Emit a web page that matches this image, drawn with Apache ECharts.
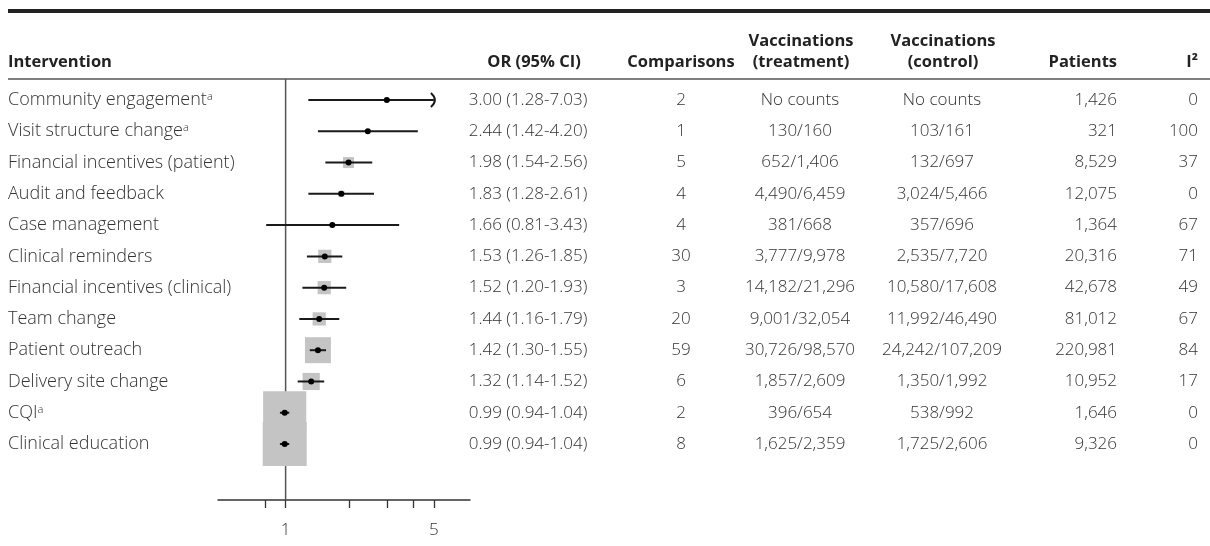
<!DOCTYPE html>
<html><head><meta charset="utf-8">
<script src="https://cdn.jsdelivr.net/npm/echarts@6/dist/echarts.min.js"></script>
<style>html,body{margin:0;padding:0;background:#fff}#c{width:1210px;height:546px}</style>
</head><body><div id="c"></div>
<script>
// ---------- data ----------
const interventions = ['Community engagement','Visit structure change','Financial incentives (patient)','Audit and feedback','Case management','Clinical reminders','Financial incentives (clinical)','Team change','Patient outreach','Delivery site change','CQI','Clinical education'];
const footnote = [true,true,false,false,false,false,false,false,false,false,true,false];
const orValues = [3.00,2.44,1.98,1.83,1.66,1.53,1.52,1.44,1.42,1.32,0.99,0.99];
const ciLower  = [1.28,1.42,1.54,1.28,0.81,1.26,1.20,1.16,1.30,1.14,0.94,0.94];
const ciUpper  = [7.03,4.20,2.56,2.61,3.43,1.85,1.93,1.79,1.55,1.52,1.04,1.04];
const comparisons = [2,1,5,4,4,30,3,20,59,6,2,8];
const vaccTreatment = ['No counts','130/160','652/1,406','4,490/6,459','381/668','3,777/9,978','14,182/21,296','9,001/32,054','30,726/98,570','1,857/2,609','396/654','1,625/2,359'];
const vaccControl = ['No counts','103/161','132/697','3,024/5,466','357/696','2,535/7,720','10,580/17,608','11,992/46,490','24,242/107,209','1,350/1,992','538/992','1,725/2,606'];
const patients = ['1,426','321','8,529','12,075','1,364','20,316','42,678','81,012','220,981','10,952','1,646','9,326'];
const iSquared = [0,100,37,0,67,71,49,67,84,17,0,0];
const weights = [7,7,25,14,7,30,30,30,59,39,98,100]; // relative weight (box size, % of largest)
const axisTicks = [0.8,1,2,3,4,5];
const axisLabels = [1,5];
const axisMinOR = 0.48, axisMaxOR = 7.4, ciCapOR = 5;
const headers = ['Intervention','OR (95% CI)','Comparisons','Vaccinations\n(treatment)','Vaccinations\n(control)','Patients','I²'];

// ---------- layout / style ----------
const FONT = "'Open Sans', sans-serif";
const TXT = '#333';
const BOX_MAX = 44;
const yMin = -0.672, yMax = 12.79;
const colX = [8, 528, 681, 800, 942, 1117, 1198];
const colAlign = ['left','center','center','center','center','right','right'];
const colFont = [18, 17, 17, 17, 17, 17, 17];
const headX = [8, 534, 681, 801, 943, 1117, 1198];
const headAlign = ['left','center','center','center','center','right','right'];

const forestData = orValues.map((v,i)=>[i, Math.log(v), Math.log(ciLower[i]), Math.log(ciUpper[i]), weights[i]]);
const tableData = interventions.map((n,i)=>[0, i]);

function renderForest(params, api){
  const i = api.value(0);
  const est = api.value(1), lo = api.value(2), hi = api.value(3), w = api.value(4);
  const cap = Math.log(ciCapOR);
  const pc = api.coord([est, i]);
  const pl = api.coord([lo, i]);
  const ph = api.coord([Math.min(hi, cap), i]);
  const side = w/100*BOX_MAX;
  const children = [
    {type:'rect', shape:{x:pc[0]-side/2, y:pc[1]-side/2, width:side, height:side}, style:{fill:'#c4c4c4'}},
    {type:'line', shape:{x1:pl[0], y1:pl[1], x2:ph[0], y2:ph[1]}, style:{stroke:'#1a1a1a', lineWidth:2}},
    {type:'circle', shape:{cx:pc[0], cy:pc[1], r:3}, style:{fill:'#000'}}
  ];
  if (hi > cap) {
    children.push({type:'bezierCurve', shape:{x1:ph[0]-3, y1:ph[1]-7, x2:ph[0]-3, y2:ph[1]+7, cpx1:ph[0]+5, cpy1:ph[1]}, style:{stroke:'#1a1a1a', lineWidth:2, fill:null}});
  }
  return {type:'group', children};
}

function renderTable(params, api){
  const i = params.dataIndex;
  const y = api.coord([0, i])[1];
  const vals = [
    interventions[i] + (footnote[i] ? '{sup|a}' : ''),
    orValues[i].toFixed(2)+' ('+ciLower[i].toFixed(2)+'-'+ciUpper[i].toFixed(2)+')',
    String(comparisons[i]),
    vaccTreatment[i],
    vaccControl[i],
    patients[i],
    String(iSquared[i])
  ];
  return {type:'group', children: vals.map((t,k)=>({
    type:'text',
    style:{text:t, x:colX[k], y:y, align:colAlign[k], verticalAlign:'middle',
      font:'300 '+colFont[k]+'px '+FONT, fill:TXT, lineHeight:21,
      rich: k===0 ? {sup:{fontSize:11, fontFamily:FONT, fontWeight:300, fill:TXT, verticalAlign:'top', lineHeight:21, padding:[2,0,0,0]}} : undefined}
  }))};
}

const graphics = [
  {type:'line', shape:{x1:8,y1:11,x2:1210,y2:11}, style:{stroke:'#222', lineWidth:4}},
  {type:'line', shape:{x1:8,y1:79,x2:1210,y2:79}, style:{stroke:'#555', lineWidth:1.5}}
];
headers.forEach((h,k)=>{
  graphics.push({type:'text', x:headX[k], y:h.indexOf('\n')>=0 ? 31 : 52,
    style:{text:h, align:headAlign[k], verticalAlign:'top', font:'bold 16.5px '+FONT, fill:'#222', lineHeight:21}});
});

const chart = echarts.init(document.getElementById('c'), null, {renderer:'canvas'});
chart.setOption({
  backgroundColor:'#fff',
  animation:false,
  graphic: graphics,
  grid:{left:218, width:252, top:79, height:421},
  xAxis:{type:'value', min:Math.log(axisMinOR), max:Math.log(axisMaxOR),
    axisLine:{show:true, onZero:false, lineStyle:{color:'#333', width:1.5}},
    axisTick:{show:true, customValues:axisTicks.map(Math.log), length:8, lineStyle:{color:'#333', width:1.3}},
    axisLabel:{show:true, customValues:axisLabels.map(Math.log), formatter:v=>String(Math.round(Math.exp(v))), color:'#333', fontSize:17, fontWeight:300, fontFamily:FONT, margin:22},
    splitLine:{show:false}},
  yAxis:{type:'value', inverse:true, min:yMin, max:yMax, show:false},
  series:[
    {type:'line', data:[[0,yMin],[0,yMax]], symbol:'none', lineStyle:{color:'#555', width:1.5}, z:1, silent:true},
    {type:'custom', data:forestData, renderItem:renderForest, z:3, silent:true, clip:false},
    {type:'custom', data:tableData, renderItem:renderTable, z:4, silent:true, clip:false}
  ]
});
</script></body></html>
